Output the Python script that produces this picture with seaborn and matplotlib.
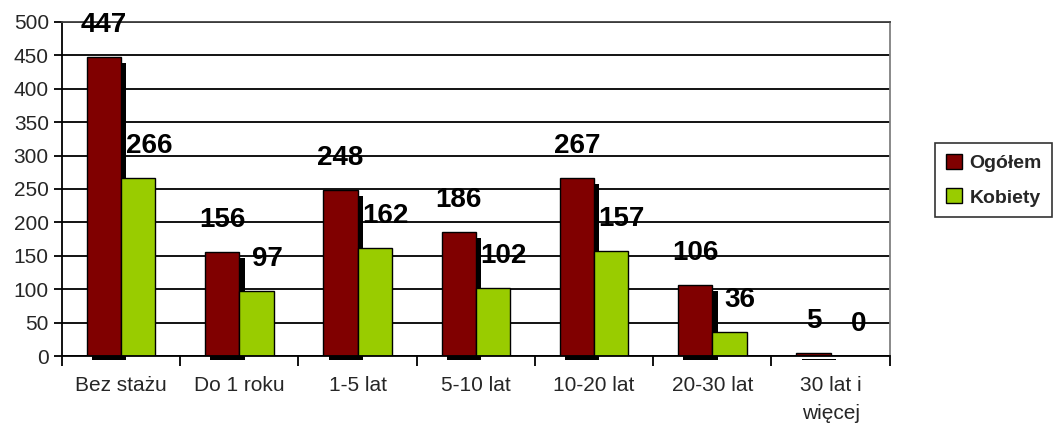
import matplotlib
matplotlib.use("Agg")
import matplotlib.pyplot as plt
import pandas as pd
import seaborn as sns

categories = ["Bez stażu", "Do 1 roku", "1-5 lat", "5-10 lat", "10-20 lat", "20-30 lat", "30 lat i\nwięcej"]
ogolem = [447, 156, 248, 186, 267, 106, 5]
kobiety = [266, 97, 162, 102, 157, 36, 0]
series = ["Ogółem", "Kobiety"]
colors = ["#800000", "#99CC00"]

df = pd.DataFrame({
    "kat": categories * 2,
    "val": ogolem + kobiety,
    "seria": [series[0]] * len(categories) + [series[1]] * len(categories),
})

sns.set_theme(style="white")
plt.rcParams["font.family"] = ["Liberation Sans", "DejaVu Sans"]

fig = plt.figure(figsize=(10.53, 4.29), dpi=100)
ax = fig.add_axes([0.0589, 0.170, 0.786, 0.779])

sns.barplot(data=df, x="kat", y="val", hue="seria", order=categories, hue_order=series,
            palette=colors, saturation=1, width=0.58, edgecolor="black", linewidth=1,
            legend=False, ax=ax, zorder=2)

n = len(categories)
red_bars = ax.patches[:n]
green_bars = ax.patches[n:2 * n]

# shadow behind the red bars (Excel style)
for p in red_bars:
    x0 = p.get_x() + 0.045
    top = p.get_height() - 9
    ax.bar(x0, top + 6, bottom=-6, width=p.get_width(), align="edge",
           color="black", linewidth=0, zorder=1.5, clip_on=False)

# value labels
for p, v in zip(red_bars, ogolem):
    ax.text(p.get_x() + p.get_width() / 2, v + 48, str(v), ha="center", va="center",
            fontsize=20, fontweight="bold", color="black", zorder=4)
for p, v in zip(green_bars, kobiety):
    ax.text(p.get_x() + p.get_width() / 2 + 0.09, v + 48, str(v), ha="center", va="center",
            fontsize=20, fontweight="bold", color="black", zorder=4)

ax.set_ylim(0, 500)
ax.set_xlim(-0.5, n - 0.5)
ax.set_yticks(range(0, 501, 50))
ax.yaxis.grid(True, color="black", linewidth=1.3, zorder=0.5)
ax.set_axisbelow(True)
ax.set_xlabel("")
ax.set_ylabel("")

ax.set_xticks(range(n))
ax.set_xticklabels(categories, fontsize=15, linespacing=1.6)
ax.tick_params(axis="x", length=0, pad=14)
ax.set_xticks([i - 0.5 for i in range(n + 1)], minor=True)
ax.tick_params(axis="x", which="minor", length=7, width=1.3, color="black", direction="out", bottom=True)
ax.tick_params(axis="y", labelsize=15, length=6, width=1.3, color="black", direction="out", left=True)

for side in ["left", "bottom", "top", "right"]:
    ax.spines[side].set_visible(True)
    ax.spines[side].set_color("black")
    ax.spines[side].set_linewidth(1.3)
ax.spines["right"].set_color("#808080")
ax.spines["top"].set_color("#404040")

handles = [plt.Rectangle((0, 0), 1, 1, facecolor=c, edgecolor="black", linewidth=1) for c in colors]
leg = fig.legend(handles, series, loc="center left", bbox_to_anchor=(0.879, 0.58),
                 frameon=True, fancybox=False, fontsize=14, handlelength=0.8, handleheight=0.8,
                 handletextpad=0.4, borderpad=0.55, labelspacing=0.85)
leg.get_frame().set_edgecolor("black")
leg.get_frame().set_linewidth(1.2)
for t in leg.get_texts():
    t.set_fontweight("bold")

fig.savefig("out.png", dpi=100, facecolor="white")
